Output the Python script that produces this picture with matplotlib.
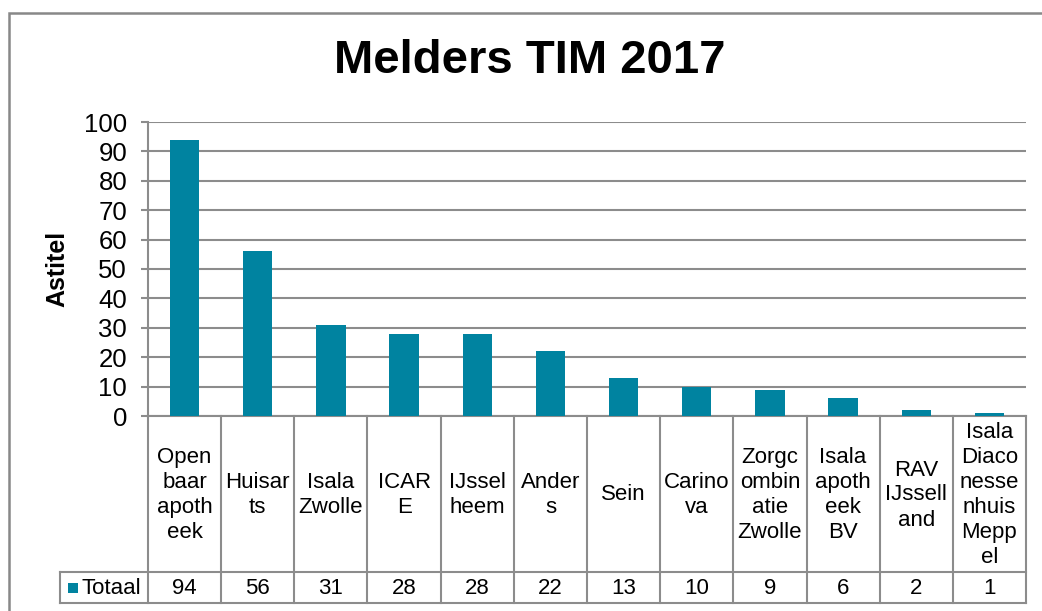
import matplotlib
matplotlib.use("Agg")
import matplotlib.pyplot as plt
from matplotlib.lines import Line2D
from matplotlib.patches import Rectangle
import matplotlib.transforms as mtransforms

plt.rcParams['font.family'] = ['Liberation Sans', 'DejaVu Sans']

title = "Melders TIM 2017"
y_label = "Astitel"
series_name = "Totaal"
categories = ["Open\nbaar\napoth\neek", "Huisar\nts", "Isala\nZwolle", "ICAR\nE",
              "IJssel\nheem", "Ander\ns", "Sein", "Carino\nva",
              "Zorgc\nombin\natie\nZwolle", "Isala\napoth\neek\nBV",
              "RAV\nIJssell\nand", "Isala\nDiaco\nnesse\nnhuis\nMepp\nel"]
values = [94, 56, 31, 28, 28, 22, 13, 10, 9, 6, 2, 1]
y_ticks = [0, 10, 20, 30, 40, 50, 60, 70, 80, 90, 100]

W, H = 1042, 611
BAR = '#0083A0'
GRID = '#8c8c8c'

fig = plt.figure(figsize=(W / 100, H / 100), dpi=100)

def fx(x):
    return x / W

def fy(y):
    return 1 - y / H

# plot area in pixels
L, R, T, B = 148, 1026, 122, 416
ax = fig.add_axes([fx(L), fy(B), fx(R) - fx(L), fy(T) - fy(B)])

n = len(categories)
xs = list(range(n))
ax.bar(xs, values, width=0.4, color=BAR, zorder=3)
ax.set_xlim(-0.5, n - 0.5)
ax.set_ylim(0, 100)
ax.set_yticks(y_ticks)
ax.set_yticklabels([str(v) for v in y_ticks], fontsize=18.5)
ax.set_xticks([])
ax.yaxis.grid(True, color=GRID, lw=1.5, zorder=0)
for s in ['top', 'right']:
    ax.spines[s].set_visible(False)
for s in ['left', 'bottom']:
    ax.spines[s].set_color(GRID)
    ax.spines[s].set_linewidth(1.5)
ax.tick_params(axis='y', length=5, width=1.5, color=GRID, pad=10)

# title and y label
fig.text(fx(530), fy(61), title, fontsize=34, fontweight='bold', ha='center', va='center')
fig.text(fx(57), fy(269), y_label, fontsize=18, fontweight='bold', rotation=90,
         ha='center', va='center')

# data table
tr = mtransforms.blended_transform_factory(ax.transData, fig.transFigure)
row1_top, row1_bot, row2_bot = 416, 572, 603
for i in range(n + 1):
    xb = i - 0.5
    fig.add_artist(Line2D([xb, xb], [fy(row1_top), fy(row2_bot)], transform=tr,
                          color=GRID, lw=1.5, clip_on=False))
for yy in (row1_bot, row2_bot):
    fig.add_artist(Line2D([fx(60), fx(R)], [fy(yy), fy(yy)], transform=fig.transFigure,
                          color=GRID, lw=1.5, clip_on=False))
fig.add_artist(Line2D([fx(60), fx(60)], [fy(row1_bot), fy(row2_bot)], transform=fig.transFigure,
                      color=GRID, lw=1.5, clip_on=False))

for i, (c, v) in enumerate(zip(categories, values)):
    fig.text(i, fy((row1_top + row1_bot) / 2 + 1), c, transform=tr, fontsize=16,
             ha='center', va='center', linespacing=1.25, multialignment='center')
    fig.text(i, fy((row1_bot + row2_bot) / 2 + 1), str(v), transform=tr, fontsize=16,
             ha='center', va='center')

# legend key + series name
fig.add_artist(Rectangle((fx(68), fy(593)), fx(10), 10 / H, transform=fig.transFigure,
                         facecolor=BAR, edgecolor='none'))
fig.text(fx(82), fy(588), series_name, fontsize=16, ha='left', va='center')

# outer chart border
fig.add_artist(Rectangle((fx(9), fy(H + 20)), fx(W + 20), (H + 20 - 13) / H,
                         transform=fig.transFigure, facecolor='none', edgecolor='#888888',
                         lw=1.8, clip_on=False))

fig.savefig("out.png", dpi=100)
